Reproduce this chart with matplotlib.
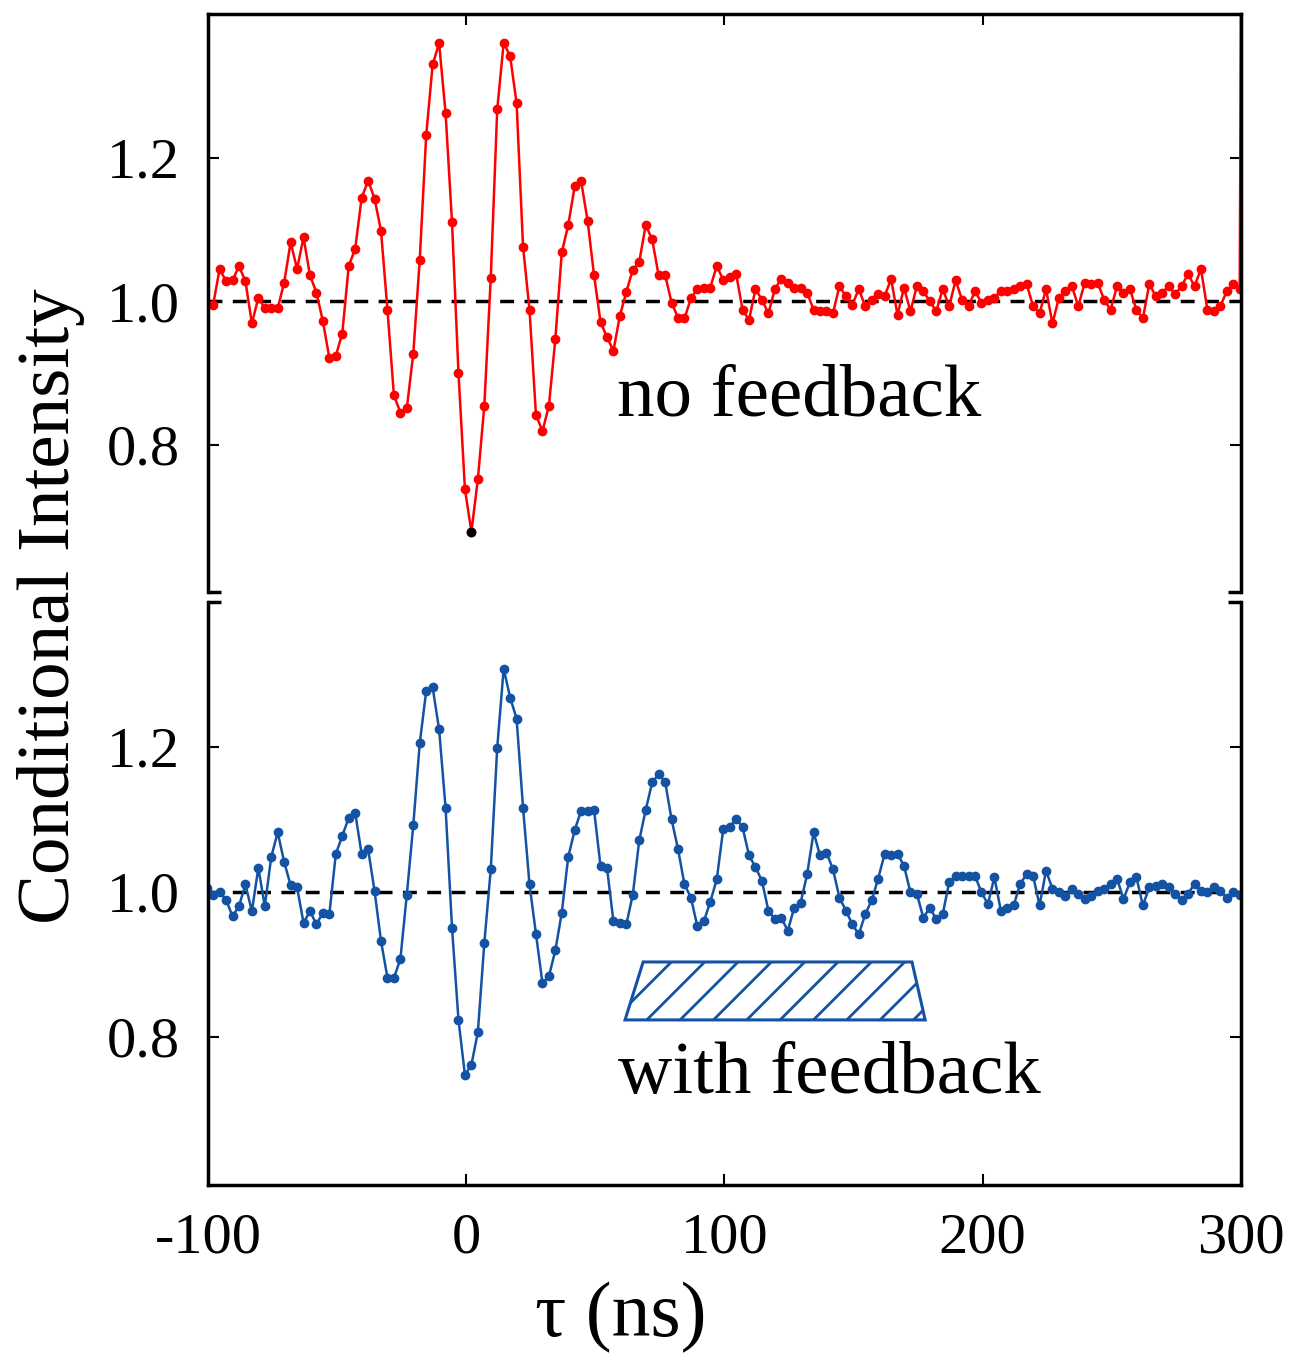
import numpy as np
import matplotlib
matplotlib.use("Agg")
import matplotlib.pyplot as plt
from matplotlib.patches import Polygon

plt.rcParams['font.family'] = ['Liberation Serif', 'DejaVu Serif']
plt.rcParams['axes.unicode_minus'] = False
plt.rcParams['hatch.linewidth'] = 2.0

# sampling grid: 2.5 ns steps starting just left of -100 ns
tau0 = -100.5
dtau = 2.5

# no feedback (red), one value per sample
red = [0.995,
       0.995, 1.045, 1.028, 1.029, 1.049, 1.028, 0.969, 1.005, 0.990, 0.990,
       0.990, 1.026, 1.082, 1.045, 1.089, 1.036, 1.012, 0.972, 0.921, 0.924,
       0.955, 1.049, 1.073, 1.144, 1.168, 1.143, 1.098, 0.988, 0.869, 0.845,
       0.851, 0.927, 1.058, 1.231, 1.330, 1.359, 1.262, 1.110, 0.900, 0.738,
       0.679, 0.752, 0.854, 1.033, 1.267, 1.360, 1.341, 1.276, 1.076, 0.988,
       0.842, 0.819, 0.854, 0.947, 1.068, 1.106, 1.160, 1.167, 1.112, 1.036,
       0.971, 0.950, 0.931, 0.980, 1.013, 1.044, 1.055, 1.106, 1.086, 1.036,
       1.037, 0.998, 0.977, 0.976, 1.004, 1.017, 1.019, 1.019, 1.049, 1.030,
       1.034, 1.038, 0.988, 0.974, 1.017, 1.002, 0.983, 1.017, 1.031, 1.026,
       1.019, 1.019, 1.012, 0.988, 0.986, 0.986, 0.983, 1.021, 1.007, 0.995,
       1.017, 0.993, 1.002, 1.010, 1.007, 1.031, 0.981, 1.019, 0.986, 1.021,
       1.014, 1.000, 0.986, 1.017, 0.993, 1.029, 1.002, 0.993, 1.014, 0.998,
       1.002, 1.005, 1.014, 1.014, 1.017, 1.021, 1.024, 0.993, 0.983, 1.017,
       0.969, 1.005, 1.014, 1.021, 0.993, 1.026, 1.024, 1.026, 1.002, 0.988,
       1.021, 1.012, 1.017, 0.988, 0.976, 1.024, 1.007, 1.012, 1.021, 1.010,
       1.021, 1.038, 1.021, 1.045, 0.988, 0.986, 0.993, 1.014, 1.024, 1.017,
       3.0]

# with feedback (blue)
blue = [1.005,
        0.996, 0.999, 0.989, 0.966, 0.980, 1.010, 0.973, 1.033, 0.980, 1.048,
        1.082, 1.041, 1.009, 1.006, 0.957, 0.973, 0.955, 0.971, 0.969, 1.052,
        1.077, 1.102, 1.109, 1.052, 1.059, 1.001, 0.932, 0.881, 0.881, 0.907,
        0.996, 1.092, 1.205, 1.277, 1.282, 1.224, 1.116, 0.950, 0.823, 0.747,
        0.761, 0.806, 0.929, 1.031, 1.199, 1.308, 1.268, 1.239, 1.116, 1.010,
        0.942, 0.874, 0.883, 0.919, 0.971, 1.048, 1.085, 1.112, 1.112, 1.113,
        1.035, 1.033, 0.959, 0.957, 0.955, 0.996, 1.071, 1.113, 1.151, 1.162,
        1.152, 1.100, 1.059, 1.010, 0.992, 0.952, 0.959, 0.986, 1.017, 1.086,
        1.089, 1.101, 1.089, 1.050, 1.034, 1.015, 0.974, 0.962, 0.964, 0.946,
        0.978, 0.985, 1.024, 1.082, 1.050, 1.054, 1.031, 0.992, 0.974, 0.955,
        0.941, 0.969, 0.988, 1.018, 1.052, 1.050, 1.052, 1.036, 0.999, 0.997,
        0.964, 0.978, 0.962, 0.969, 1.013, 1.022, 1.022, 1.022, 1.022, 0.999,
        0.983, 1.020, 0.974, 0.978, 0.981, 1.011, 1.024, 1.022, 0.981, 1.029,
        1.004, 1.000, 0.994, 1.004, 0.997, 0.990, 0.994, 1.001, 1.004, 1.011,
        1.018, 0.990, 1.013, 1.020, 0.981, 1.006, 1.008, 1.011, 1.006, 0.997,
        0.988, 0.997, 1.011, 1.001, 0.999, 1.006, 1.001, 0.992, 0.999, 0.995]

xticks = [-100, 0, 100, 200, 300]
yticks = [0.8, 1.0, 1.2]

# feedback window marker (tau, intensity) corners
window_tau = [61.5, 68.5, 172.6, 177.7]
window_lo, window_hi = 0.823, 0.903

tau_red = tau0 + dtau * np.arange(len(red))
tau_blue = tau0 + dtau * np.arange(len(blue))

red_c = '#ff0000'
blue_c = '#1452a3'

fig = plt.figure(figsize=(12.95, 13.57), dpi=100)
ax1 = fig.add_axes([0.1606, 0.5637, 0.7977, 0.4260])
ax2 = fig.add_axes([0.1606, 0.1267, 0.7977, 0.4297])

for ax in (ax1, ax2):
    ax.axhline(1.0, color='k', lw=2.5, ls=(0, (4, 3)), zorder=1)
    ax.set_xlim(-100, 300)
    ax.set_ylim(0.595, 1.40)
    ax.set_xticks(xticks)
    ax.set_yticks(yticks)
    ax.set_yticklabels(['%.1f' % v for v in yticks])
    ax.tick_params(direction='in', length=8, width=1.5, labelsize=42,
                   right=True, pad=20)
    for s in ax.spines.values():
        s.set_linewidth(2.5)

ax1.plot(tau_red, red, '-o', color=red_c, lw=1.8, ms=6, zorder=2)
imin = int(np.argmin(red))
ax1.plot(tau_red[imin], red[imin], 'o', color='k', ms=6, zorder=3)
ax2.plot(tau_blue, blue, '-o', color=blue_c, lw=1.8, ms=6, zorder=2)

ax1.spines['bottom'].set_visible(False)
ax2.spines['top'].set_visible(False)
ax1.tick_params(axis='x', top=True, bottom=False, labelbottom=False)
ax2.tick_params(axis='x', top=False, bottom=True)

# little corner stubs at the break between panels
for ax, yy in ((ax1, 0.0), (ax2, 1.0)):
    ax.plot([0, 0.013], [yy, yy], color='k', lw=2.5, transform=ax.transAxes,
            clip_on=False, solid_capstyle='butt')
    ax.plot([0.987, 1], [yy, yy], color='k', lw=2.5, transform=ax.transAxes,
            clip_on=False, solid_capstyle='butt')

win = Polygon([(window_tau[0], window_lo), (window_tau[1], window_hi),
               (window_tau[2], window_hi), (window_tau[3], window_lo)],
              closed=True, fill=False, edgecolor=blue_c, lw=2.2, hatch='/')
ax2.add_patch(win)

ax1.text(0.396, 0.306, 'no feedback', transform=ax1.transAxes,
         fontsize=54, ha='left', va='baseline')
ax2.text(0.397, 0.158, 'with feedback', transform=ax2.transAxes,
         fontsize=54, ha='left', va='baseline')

fig.text(0.039, 0.553, 'Conditional Intensity', rotation=90,
         fontsize=54, ha='center', va='center')
fig.text(0.479, 0.029, 'τ (ns)', fontsize=56, ha='center', va='center')

fig.savefig('out.png', dpi=100)
